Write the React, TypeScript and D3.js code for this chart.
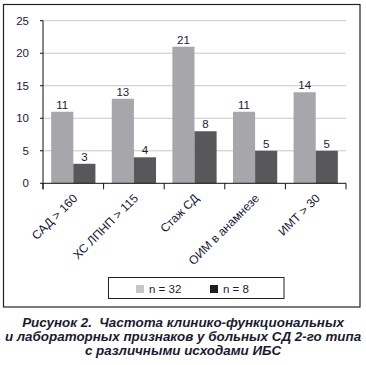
import React from "react";
import * as d3 from "d3";

const categories = ["САД > 160", "ХС ЛПНП > 115", "Стаж СД", "ОИМ в анамнезе", "ИМТ > 30"];
const seriesNames = ["n = 32", "n = 8"];
const valuesN32 = [11, 13, 21, 11, 14];
const valuesN8 = [3, 4, 8, 5, 5];
const yTicks = [0, 5, 10, 15, 20, 25];
const captionLines = [
  "Рисунок 2.  Частота клинико-функциональных",
  "и лабораторных признаков у больных СД 2-го типа",
  "с различными исходами ИБС",
];

const barColors = ["#a7a7ab", "#58585a"];
const legendColors = ["#c6c6c6", "#1e1e1e"];
const font = "'Liberation Sans', Arial, Helvetica, sans-serif";

export default function App() {
  const W = 366, H = 365;
  const x0 = 43, x1 = 346;
  const yTop = 20.7, yBot = 183.3;
  const x = d3.scaleBand<string>().domain(categories).range([x0, x1]).paddingInner(0).paddingOuter(0);
  const xs = d3.scaleBand<number>().domain([0, 1]).range([0, x.bandwidth()]).paddingInner(0).paddingOuter(0.37);
  const y = d3.scaleLinear().domain([0, 25]).range([yBot, yTop]);
  const series = [valuesN32, valuesN8];
  const tickXs = categories.map((c) => x(c)!).concat([x1]);

  return (
    <svg width={W} height={H} style={{ position: "absolute", left: 0, top: 0, background: "#fff" }} fontFamily={font}>
      <rect x={3.5} y={4.5} width={356.5} height={302.5} fill="none" stroke="#222" strokeWidth={1.2} />
      {yTicks.filter((t) => t > 0).map((t) => (
        <line key={"g" + t} x1={x0} x2={x1} y1={y(t)} y2={y(t)} stroke="#c8c8c8" strokeWidth={1} />
      ))}
      {series.map((vals, si) =>
        vals.map((v, i) => {
          const bx = x(categories[i])! + xs(si)!;
          return (
            <g key={si + "-" + i}>
              <rect x={bx} y={y(v)} width={xs.bandwidth()} height={yBot - y(v)} fill={barColors[si]} />
              <text x={bx + xs.bandwidth() / 2} y={y(v) - 3} textAnchor="middle" fontSize={11.5} fill="#1a1a3a">
                {v}
              </text>
            </g>
          );
        })
      )}
      <line x1={x0} x2={x0} y1={yTop} y2={yBot + 6} stroke="#111" strokeWidth={1} />
      <line x1={x0} x2={x1} y1={yBot} y2={yBot} stroke="#111" strokeWidth={1} />
      {yTicks.map((t) => (
        <g key={"y" + t}>
          <line x1={x0 - 3} x2={x0} y1={y(t)} y2={y(t)} stroke="#111" />
          <text x={29} y={y(t) + 4} textAnchor="end" fontSize={11.5} fill="#1a1a3a">
            {t}
          </text>
        </g>
      ))}
      {tickXs.map((tx, i) => (
        <line key={"xt" + i} x1={tx} x2={tx} y1={yBot} y2={yBot + 6} stroke="#111" />
      ))}
      {categories.map((c) => {
        const cx = x(c)! + x.bandwidth() / 2 + 5;
        const cy = 199;
        return (
          <text key={c} transform={`translate(${cx},${cy}) rotate(-45)`} textAnchor="end" fontSize={12} fill="#1a1a3a">
            {c}
          </text>
        );
      })}
      <rect x={108.5} y={277.5} width={175.5} height={21} fill="none" stroke="#222" strokeWidth={1} />
      {seriesNames.map((s, i) => {
        const lx = [136, 210][i];
        return (
          <g key={s}>
            <rect x={lx} y={285} width={8} height={8} fill={legendColors[i]} />
            <text x={lx + 13} y={293} fontSize={11.5} fill="#1a1a3a">
              {s}
            </text>
          </g>
        );
      })}
      {captionLines.map((l, i) => (
        <text key={i} x={183} y={327 + i * 14} textAnchor="middle" fontSize={13.4} fontWeight="bold" fontStyle="italic" fill="#1a1a30" style={{ whiteSpace: "pre" }}>
          {l}
        </text>
      ))}
    </svg>
  );
}
